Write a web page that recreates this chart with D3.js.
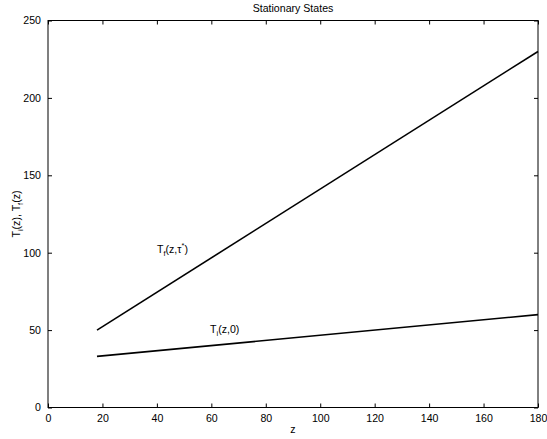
<!DOCTYPE html>
<html>
<head>
<meta charset="utf-8">
<script src="https://cdn.jsdelivr.net/npm/d3@7"></script>
<style>
  body { margin: 0; background: #fff; }
  text { font-family: "Liberation Sans", Arial, Helvetica, sans-serif; fill: #000; }
</style>
</head>
<body>
<script>
// Stationary temperature profiles along z
const zFinal = [18, 180];
const tFinal = [50, 230];
const zInit = [18, 180];
const tInit = [33, 60];

const xTicks = [0, 20, 40, 60, 80, 100, 120, 140, 160, 180];
const yTicks = [0, 50, 100, 150, 200, 250];

const W = 547, H = 439;
const m = { left: 48, right: 9, top: 20.5, bottom: 31.5 };
const fs = 10.6;

const svg = d3.select("body").append("svg")
  .attr("width", W).attr("height", H);

const x = d3.scaleLinear().domain([0, 180]).range([m.left, W - m.right]);
const y = d3.scaleLinear().domain([0, 250]).range([H - m.bottom, m.top]);

// axes box
svg.append("rect")
  .attr("x", x(0)).attr("y", y(250))
  .attr("width", x(180) - x(0)).attr("height", y(0) - y(250))
  .attr("fill", "none").attr("stroke", "#000").attr("stroke-width", 1);

const tickLen = 4;
const styleAxis = g => {
  g.select(".domain").remove();
  g.selectAll("line").attr("stroke", "#000");
  g.selectAll("text").attr("font-size", fs).attr("font-family", "Liberation Sans, Arial, sans-serif");
};

// bottom and top x axes (ticks pointing inward)
svg.append("g").attr("transform", `translate(0,${y(0)})`)
  .call(d3.axisBottom(x).tickValues(xTicks).tickSizeInner(-tickLen).tickSizeOuter(0).tickPadding(7))
  .call(styleAxis);
svg.append("g").attr("transform", `translate(0,${y(250)})`)
  .call(d3.axisTop(x).tickValues(xTicks).tickSizeInner(-tickLen).tickSizeOuter(0).tickFormat(""))
  .call(styleAxis);

// left and right y axes
svg.append("g").attr("transform", `translate(${x(0)},0)`)
  .call(d3.axisLeft(y).tickValues(yTicks).tickSizeInner(-tickLen).tickSizeOuter(0).tickPadding(7))
  .call(styleAxis);
svg.append("g").attr("transform", `translate(${x(180)},0)`)
  .call(d3.axisRight(y).tickValues(yTicks).tickSizeInner(-tickLen).tickSizeOuter(0).tickFormat(""))
  .call(styleAxis);

// profiles
const line = d3.line().x(d => x(d[0])).y(d => y(d[1]));
svg.append("path").datum(d3.zip(zFinal, tFinal))
  .attr("d", line).attr("fill", "none").attr("stroke", "#000").attr("stroke-width", 1.6);
svg.append("path").datum(d3.zip(zInit, tInit))
  .attr("d", line).attr("fill", "none").attr("stroke", "#000").attr("stroke-width", 1.6);

// title and axis labels
svg.append("text").attr("x", (x(0) + x(180)) / 2).attr("y", 12)
  .attr("text-anchor", "middle").attr("font-size", fs).text("Stationary States");
svg.append("text").attr("x", (x(0) + x(180)) / 2).attr("y", 433)
  .attr("text-anchor", "middle").attr("font-size", fs).text("z");

const yl = svg.append("text")
  .attr("transform", `translate(20,${(y(0) + y(250)) / 2}) rotate(-90)`)
  .attr("text-anchor", "middle").attr("font-size", fs);
yl.append("tspan").text("T");
yl.append("tspan").attr("font-size", fs * 0.7).attr("dy", 2.5).text("i");
yl.append("tspan").attr("dy", -2.5).text("(z), T");
yl.append("tspan").attr("font-size", fs * 0.7).attr("dy", 2.5).text("f");
yl.append("tspan").attr("dy", -2.5).text("(z)");

// curve annotations
const lf = svg.append("text").attr("x", 157).attr("y", 253).attr("font-size", fs);
lf.append("tspan").text("T");
lf.append("tspan").attr("font-size", fs * 0.7).attr("dy", 2.5).text("f");
lf.append("tspan").attr("dy", -2.5).text("(z,τ");
lf.append("tspan").attr("font-size", fs * 0.7).attr("dy", -5).text("*");
lf.append("tspan").attr("dy", 5).text(")");

const li = svg.append("text").attr("x", 210).attr("y", 333).attr("font-size", fs);
li.append("tspan").text("T");
li.append("tspan").attr("font-size", fs * 0.7).attr("dy", 2.5).text("i");
li.append("tspan").attr("dy", -2.5).text("(z,0)");
</script>
</body>
</html>
